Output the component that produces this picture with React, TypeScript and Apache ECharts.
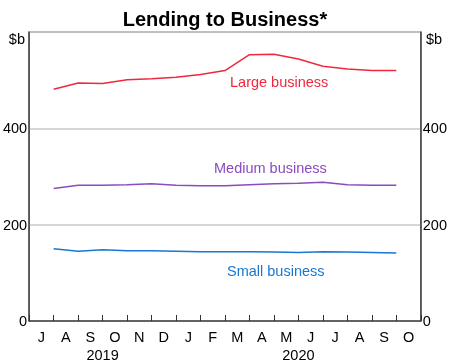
import React, { useEffect, useRef } from "react";
import * as echarts from "echarts";

const months = ["J", "A", "S", "O", "N", "D", "J", "F", "M", "A", "M", "J", "J", "A", "S", "O"];
const yearLabels = ["2019", "2020"];
const yearCentres = [3, 11];
const yTicks = [0, 200, 400, 600];

// month-end values, Jul 2019 .. Sep 2020 ($b)
const largeBusiness = [481, 494, 493, 501, 503, 506, 512, 520, 553, 554, 544, 529, 523, 520, 520];
const mediumBusiness = [275, 282, 282, 283, 285, 282, 281, 281, 283, 285, 286, 288, 283, 282, 282];
const smallBusiness = [150, 145, 148, 146, 146, 145, 144, 144, 144, 143, 142, 144, 143, 142, 141];

const FONT = "'Liberation Sans', Arial, sans-serif";
const FS = 14.5;
const RED = "#f0283f";
const PURPLE = "#8a4bc0";
const BLUE = "#1777d2";

export default function App() {
  const ref = useRef<HTMLDivElement>(null);
  useEffect(() => {
    if (!ref.current) return;
    const chart = echarts.init(ref.current, undefined, { renderer: "svg" });
    const toPts = (arr: number[]) => arr.map((v, i) => [i + 1, v]);
    const lineSeries = (name: string, data: number[], color: string) => ({
      name,
      type: "line",
      xAxisIndex: 1,
      yAxisIndex: 0,
      data: toPts(data),
      symbol: "none",
      lineStyle: { color, width: 1.5 },
      silent: true,
    });
    const yLabel = (v: number) => (v === yTicks[3] ? "" : String(v));
    chart.setOption({
      animation: false,
      textStyle: { fontFamily: FONT },
      title: {
        text: "Lending to Business*",
        left: "center",
        top: 4,
        textStyle: { fontSize: 20, fontWeight: "bold", color: "#000", fontFamily: FONT },
      },
      grid: {
        left: 28,
        right: 26,
        top: 32,
        bottom: 39,
        show: true,
        borderColor: "#555",
        borderWidth: 1,
        containLabel: false,
      },
      xAxis: [
        {
          type: "category",
          data: months,
          position: "bottom",
          boundaryGap: true,
          axisLine: { show: true, lineStyle: { color: "#444", width: 1.5 } },
          axisTick: { show: true, inside: true, length: 6, interval: 0, lineStyle: { color: "#333", width: 1 } },
          axisLabel: { interval: 0, color: "#000", fontSize: FS, margin: 8, fontFamily: FONT },
          splitLine: { show: false },
          z: 5,
        },
        {
          type: "value",
          min: 0,
          max: months.length,
          position: "bottom",
          axisLine: { show: false },
          axisTick: { show: false },
          splitLine: { show: false },
          axisLabel: {
            customValues: yearCentres,
            formatter: (v: number) => yearLabels[yearCentres.indexOf(v)] ?? "",
            color: "#000",
            fontSize: FS,
            margin: 26,
            fontFamily: FONT,
          },
        },
      ],
      yAxis: [
        {
          type: "value",
          position: "left",
          min: 0,
          max: 600,
          interval: 200,
          axisLine: { show: true, lineStyle: { color: "#444", width: 1.5 } },
          axisTick: { show: false },
          axisLabel: { color: "#000", fontSize: FS, margin: 2, fontFamily: FONT, formatter: yLabel },
          splitLine: { show: true, lineStyle: { color: "#c8c8c8", width: 1.5 } },
        },
        {
          type: "value",
          position: "right",
          min: 0,
          max: 600,
          interval: 200,
          axisLine: { show: true, lineStyle: { color: "#444", width: 1.5 } },
          axisTick: { show: false },
          axisLabel: { color: "#000", fontSize: FS, margin: 2, fontFamily: FONT, formatter: yLabel },
          splitLine: { show: false },
        },
      ],
      graphic: [
        { type: "text", right: 425, top: 31, style: { text: "$b", fill: "#000", font: `${FS}px ${FONT}` } },
        { type: "text", left: 426, top: 31, style: { text: "$b", fill: "#000", font: `${FS}px ${FONT}` } },
        { type: "text", left: 230, top: 74, style: { text: "Large business", fill: RED, font: `${FS}px ${FONT}` } },
        { type: "text", left: 214, top: 160, style: { text: "Medium business", fill: PURPLE, font: `${FS}px ${FONT}` } },
        { type: "text", left: 227, top: 263, style: { text: "Small business", fill: BLUE, font: `${FS}px ${FONT}` } },
      ],
      series: [
        lineSeries("Large business", largeBusiness, RED),
        lineSeries("Medium business", mediumBusiness, PURPLE),
        lineSeries("Small business", smallBusiness, BLUE),
      ],
    });
    return () => chart.dispose();
  }, []);
  return <div ref={ref} style={{ position: "fixed", left: 0, top: 0, width: 450, height: 362 }} />;
}
